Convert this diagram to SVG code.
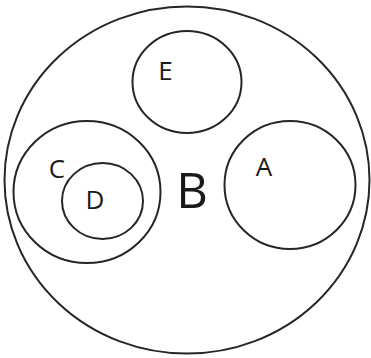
<svg xmlns="http://www.w3.org/2000/svg" width="371" height="358" viewBox="0 0 371 358">
<style>
.c{fill:none;stroke:#262626;stroke-width:2}
.t{font-family:"Open Sans","Liberation Sans",sans-serif;fill:#1a1a1a;text-anchor:middle;font-size:26px}
.big{font-size:49px}
</style>
<rect width="371" height="358" fill="#fff"/>
<g id="B"><ellipse class="c" cx="187" cy="180" rx="182.5" ry="173.5"/><text class="t big" x="192" y="208">B</text></g>
<g id="E"><ellipse class="c" cx="187" cy="82" rx="54.5" ry="51"/><text class="t" x="165.5" y="80">E</text></g>
<g id="A"><ellipse class="c" cx="290" cy="185" rx="65.5" ry="64"/><text class="t" x="264" y="176">A</text></g>
<g id="C"><ellipse class="c" cx="87" cy="192" rx="73.5" ry="71"/><text class="t" x="57" y="178">C</text></g>
<g id="D"><ellipse class="c" cx="102.5" cy="201" rx="40.5" ry="38"/><text class="t" x="95" y="209">D</text></g>
<g id="connectors"></g>
</svg>
